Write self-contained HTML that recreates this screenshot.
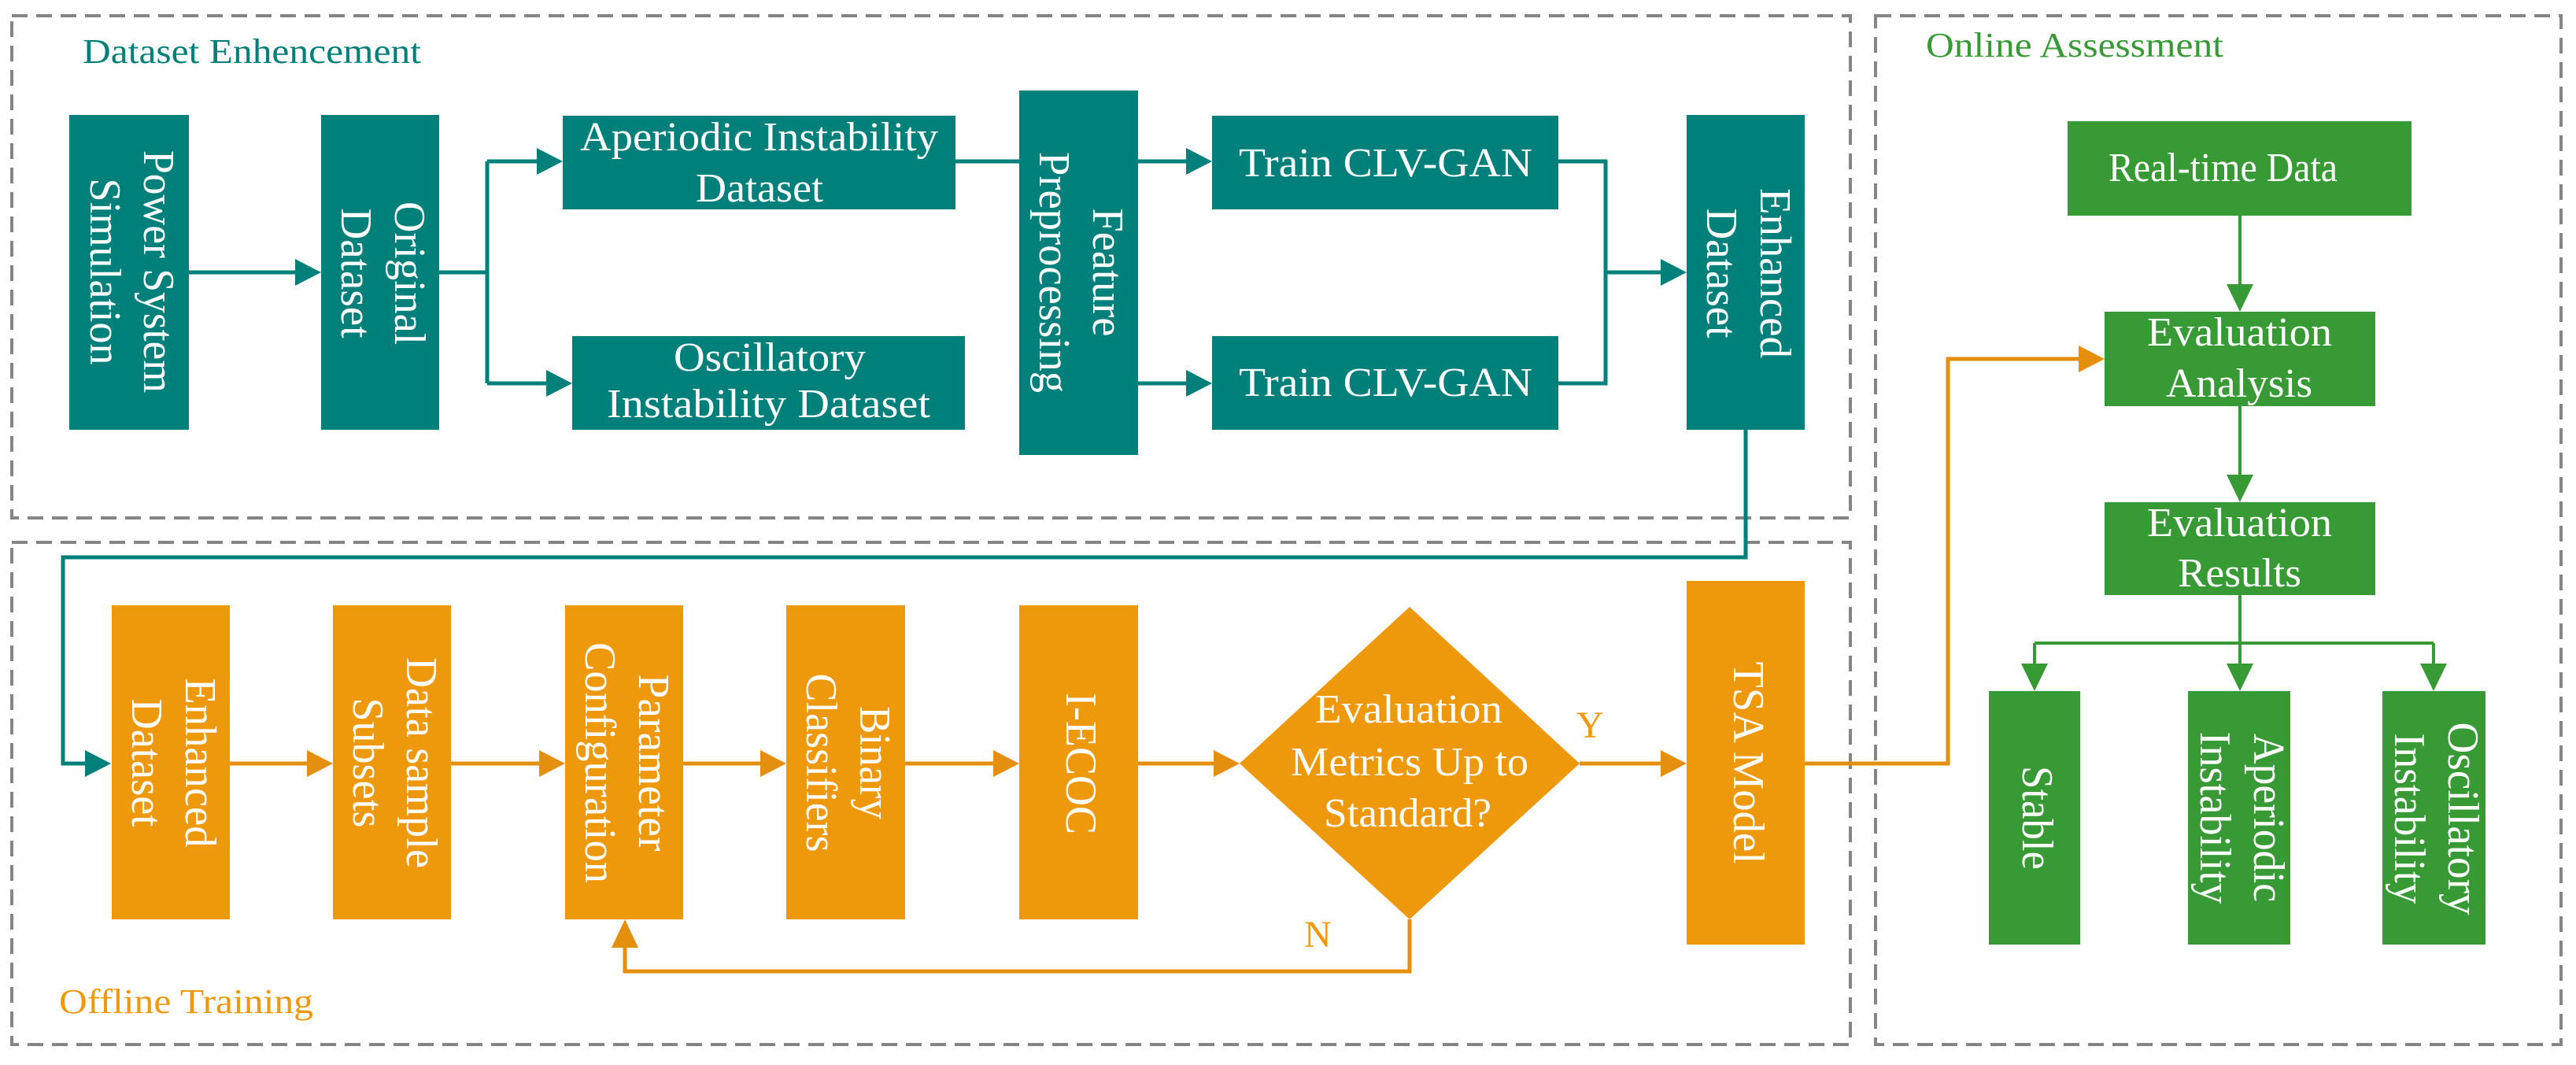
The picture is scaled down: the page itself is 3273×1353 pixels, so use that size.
<!DOCTYPE html>
<html><head><meta charset="utf-8"><style>
html,body{margin:0;padding:0;background:#fff}
svg{display:block}
text{font-family:"Liberation Serif",serif}
</style></head><body>
<svg width="3273" height="1353" viewBox="0 0 3273 1353" xmlns="http://www.w3.org/2000/svg">
<defs>
<style>
.w{fill:#fff;font-size:56px}
.h{fill:#fff;font-size:52px}
</style>
</defs>
<!-- dashed boxes -->
<g fill="none" stroke="#858585" stroke-width="4" stroke-dasharray="20,11">
<rect x="15" y="20" width="2336" height="638"/>
<rect x="15" y="689" width="2336" height="638"/>
<rect x="2383" y="20" width="871" height="1307"/>
</g>
<text x="105" y="80" fill="#007f7a" font-size="44" textLength="430" lengthAdjust="spacingAndGlyphs">Dataset Enhencement</text>
<text x="2447" y="72" fill="#379a35" font-size="44" textLength="378" lengthAdjust="spacingAndGlyphs">Online Assessment</text>
<text x="75" y="1287" fill="#ee980c" font-size="44" textLength="323" lengthAdjust="spacingAndGlyphs">Offline Training</text>

<!-- teal boxes -->
<g fill="#00807a">
<rect x="88" y="146" width="152" height="400"/>
<rect x="408" y="146" width="150" height="400"/>
<rect x="715" y="147" width="499" height="119"/>
<rect x="727" y="427" width="499" height="119"/>
<rect x="1295" y="115" width="151" height="463"/>
<rect x="1540" y="147" width="440" height="119"/>
<rect x="1540" y="427" width="440" height="119"/>
<rect x="2143" y="146" width="150" height="400"/>
</g>
<!-- teal connectors -->
<g stroke="#00807a" stroke-width="5" fill="none">
<path d="M240 346H375"/>
<path d="M558 346H619M619 205V487M619 205H682M619 487H694"/>
<path d="M1214 205H1295M1446 205H1507M1446 487H1507"/>
<path d="M1980 205H2040V487H1980M2040 346H2110"/>
<path d="M2218 546V708H80V970H108"/>
</g>
<g fill="#00807a">
<path d="M375 329L408 346L375 363Z"/>
<path d="M682 188L715 205L682 222Z"/>
<path d="M694 470L727 487L694 504Z"/>
<path d="M1507 188L1540 205L1507 222Z"/>
<path d="M1507 470L1540 487L1507 504Z"/>
<path d="M2110 329L2143 346L2110 363Z"/>
<path d="M108 953L141 970L108 987Z"/>
</g>
<!-- teal texts -->
<text class="h" x="737" y="191" textLength="455" lengthAdjust="spacingAndGlyphs">Aperiodic Instability</text>
<text class="h" x="884" y="256" textLength="162" lengthAdjust="spacingAndGlyphs">Dataset</text>
<text class="h" x="856" y="471" textLength="244" lengthAdjust="spacingAndGlyphs">Oscillatory</text>
<text class="h" x="771" y="530" textLength="411" lengthAdjust="spacingAndGlyphs">Instability  Dataset</text>
<text class="h" x="1574" y="224" textLength="373" lengthAdjust="spacingAndGlyphs">Train CLV-GAN</text>
<text class="h" x="1574" y="503" textLength="373" lengthAdjust="spacingAndGlyphs">Train CLV-GAN</text>
<g class="w" text-anchor="middle">
<g transform="translate(164,345) rotate(90)"><text y="-19" textLength="308" lengthAdjust="spacingAndGlyphs">Power System</text><text y="49" textLength="237" lengthAdjust="spacingAndGlyphs">Simulation</text></g>
<g transform="translate(483,347) rotate(90)"><text y="-19" textLength="182" lengthAdjust="spacingAndGlyphs">Original</text><text y="49" textLength="165" lengthAdjust="spacingAndGlyphs">Dataset</text></g>
<g transform="translate(1370,346) rotate(90)"><text y="-19" textLength="163" lengthAdjust="spacingAndGlyphs">Feature</text><text y="49" textLength="306" lengthAdjust="spacingAndGlyphs">Preprocessing</text></g>
<g transform="translate(2218,347) rotate(90)"><text y="-19" textLength="216" lengthAdjust="spacingAndGlyphs">Enhanced</text><text y="49" textLength="165" lengthAdjust="spacingAndGlyphs">Dataset</text></g>
</g>

<!-- orange -->
<g fill="#ee980c">
<rect x="142" y="769" width="150" height="399"/>
<rect x="423" y="769" width="150" height="399"/>
<rect x="718" y="769" width="150" height="399"/>
<rect x="999" y="769" width="151" height="399"/>
<rect x="1295" y="769" width="151" height="399"/>
<path d="M1791 771L2007 970L1791 1168L1575 970Z"/>
<rect x="2143" y="738" width="150" height="462"/>
</g>
<g stroke="#e58f0e" stroke-width="5" fill="none">
<path d="M292 970H390M573 970H685M868 970H966M1150 970H1262M1446 970H1542M2007 970H2110"/>
<path d="M1791 1168V1234H794V1200"/>
<path d="M2293 970H2475V456H2641"/>
</g>
<g fill="#e58f0e">
<path d="M390 953L423 970L390 987Z"/>
<path d="M685 953L718 970L685 987Z"/>
<path d="M966 953L999 970L966 987Z"/>
<path d="M1262 953L1295 970L1262 987Z"/>
<path d="M1542 953L1575 970L1542 987Z"/>
<path d="M2110 953L2143 970L2110 987Z"/>
<path d="M777 1204L794 1168L811 1204Z"/>
<path d="M2641 439L2674 456L2641 473Z"/>
</g>
<text x="2003" y="937" fill="#ee980c" font-size="48">Y</text>
<text x="1657" y="1203" fill="#ee980c" font-size="48">N</text>
<text class="h" x="1671" y="918" textLength="238" lengthAdjust="spacingAndGlyphs">Evaluation</text>
<text class="h" x="1640" y="985" textLength="302" lengthAdjust="spacingAndGlyphs">Metrics Up to</text>
<text class="h" x="1682" y="1050" textLength="213" lengthAdjust="spacingAndGlyphs">Standard?</text>
<g class="w" text-anchor="middle">
<g transform="translate(217,969) rotate(90)"><text y="-19" textLength="215" lengthAdjust="spacingAndGlyphs">Enhanced</text><text y="49" textLength="163" lengthAdjust="spacingAndGlyphs">Dataset</text></g>
<g transform="translate(498,969) rotate(90)"><text y="-19" textLength="268" lengthAdjust="spacingAndGlyphs">Data sample</text><text y="49" textLength="165" lengthAdjust="spacingAndGlyphs">Subsets</text></g>
<g transform="translate(793,969) rotate(90)"><text y="-19" textLength="225" lengthAdjust="spacingAndGlyphs">Parameter</text><text y="49" textLength="306" lengthAdjust="spacingAndGlyphs">Configuration</text></g>
<g transform="translate(1074,969) rotate(90)"><text y="-19" textLength="144" lengthAdjust="spacingAndGlyphs">Binary</text><text y="49" textLength="227" lengthAdjust="spacingAndGlyphs">Classifiers</text></g>
<g transform="translate(1370,970) rotate(90)"><text y="15" textLength="180" lengthAdjust="spacingAndGlyphs">I-ECOC</text></g>
<g transform="translate(2218,969) rotate(90)"><text y="15" textLength="257" lengthAdjust="spacingAndGlyphs">TSA Model</text></g>
</g>

<!-- green -->
<g fill="#379a35">
<rect x="2627" y="154" width="437" height="120"/>
<rect x="2674" y="396" width="344" height="120"/>
<rect x="2674" y="638" width="344" height="118"/>
<rect x="2527" y="878" width="116" height="322"/>
<rect x="2780" y="878" width="130" height="322"/>
<rect x="3027" y="878" width="131" height="322"/>
</g>
<g stroke="#379a35" stroke-width="4" fill="none">
<path d="M2846 274V362M2846 516V604M2846 756V845M2585 817H3092M2585 817V845M3092 817V845"/>
</g>
<g fill="#379a35">
<path d="M2829 361L2846 396L2863 361Z"/>
<path d="M2829 603L2846 638L2863 603Z"/>
<path d="M2568 843L2585 878L2602 843Z"/>
<path d="M2829 843L2846 878L2863 843Z"/>
<path d="M3075 843L3092 878L3109 843Z"/>
</g>
<text class="h" x="2679" y="230" textLength="291" lengthAdjust="spacingAndGlyphs">Real-time Data</text>
<text class="h" x="2728" y="439" textLength="235" lengthAdjust="spacingAndGlyphs">Evaluation</text>
<text class="h" x="2752" y="504" textLength="186" lengthAdjust="spacingAndGlyphs">Analysis</text>
<text class="h" x="2728" y="681" textLength="235" lengthAdjust="spacingAndGlyphs">Evaluation</text>
<text class="h" x="2767" y="745" textLength="157" lengthAdjust="spacingAndGlyphs">Results</text>
<g class="w" text-anchor="middle">
<g transform="translate(2585,1039) rotate(90)"><text y="15" textLength="132" lengthAdjust="spacingAndGlyphs">Stable</text></g>
<g transform="translate(2845,1039) rotate(90)"><text y="-19" textLength="214" lengthAdjust="spacingAndGlyphs">Aperiodic</text><text y="49" textLength="219" lengthAdjust="spacingAndGlyphs">Instability</text></g>
<g transform="translate(3092,1040) rotate(90)"><text y="-19" textLength="245" lengthAdjust="spacingAndGlyphs">Oscillatory</text><text y="49" textLength="217" lengthAdjust="spacingAndGlyphs">Instability</text></g>
</g>
</svg>
</body></html>
